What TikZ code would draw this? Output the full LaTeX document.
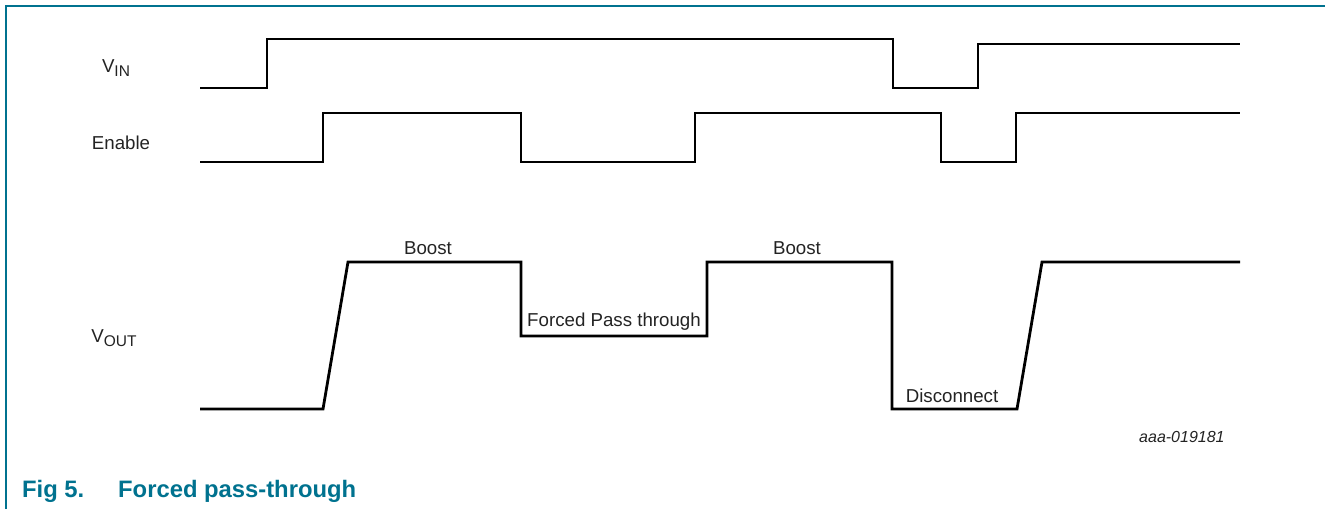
\documentclass[tikz,border=0pt]{standalone}
\usepackage{fontspec}
\setmainfont{Liberation Sans}
\definecolor{nxpteal}{RGB}{0,114,143}
\definecolor{txtgray}{RGB}{35,35,35}
\newcommand{\subtxt}[1]{{\fontsize{15.5}{15}\selectfont\raisebox{-3.5pt}{#1}}}
\begin{document}
\begin{tikzpicture}[x=1pt,y=-1pt,
  wave/.style={line width=2.8pt,line join=miter,black},
  lbl/.style={inner sep=0pt,text=txtgray,font=\fontsize{18.7}{21}\selectfont},
  frameline/.style={line width=1.3pt,nxpteal}]
\useasboundingbox (0,0) rectangle (1325,509);
% frame
\draw[frameline] (6,509) -- (6,6) -- (1325,6);
% labels
\node[lbl] (vin) at (116,68) {V\subtxt{IN}};
\node[lbl] (en) at (121,143) {Enable};
\node[lbl] (vout) at (114,338) {V\subtxt{OUT}};
% VIN waveform
\draw[wave] (200,88) -- (267,88) -- (267,39) -- (893,39) -- (893,88) -- (978,88) -- (978,44) -- (1240,44);
% Enable waveform
\draw[wave] (200,162) -- (323,162) -- (323,113) -- (521,113) -- (521,162) -- (695,162) -- (695,113) -- (941,113) -- (941,162) -- (1016,162) -- (1016,113) -- (1240,113);
% VOUT waveform
\draw[wave] (200,409) -- (323,409) -- (348,262) -- (521,262) -- (521,336) -- (707,336) -- (707,262) -- (892,262) -- (892,409) -- (1017,409) -- (1042,262) -- (1240,262);
% state labels
\node[lbl] (b1) at (428,248) {Boost};
\node[lbl] (b2) at (797,248) {Boost};
\node[lbl] (fpt) at (614,322) {Forced Pass through};
\node[lbl] (dis) at (952,396) {Disconnect};
% figure id
\node[inner sep=0pt,text=txtgray,font=\fontsize{16}{18}\selectfont\itshape,anchor=west] (id) at (1139,437) {aaa-019181};
% caption
\node[inner sep=0pt,text=nxpteal,font=\fontsize{23.8}{26}\selectfont\bfseries,anchor=base west] (fig) at (22,497) {Fig 5.};
\node[inner sep=0pt,text=nxpteal,font=\fontsize{23.8}{26}\selectfont\bfseries,anchor=base west] (cap) at (118,497) {Forced pass-through};
\end{tikzpicture}
\end{document}
